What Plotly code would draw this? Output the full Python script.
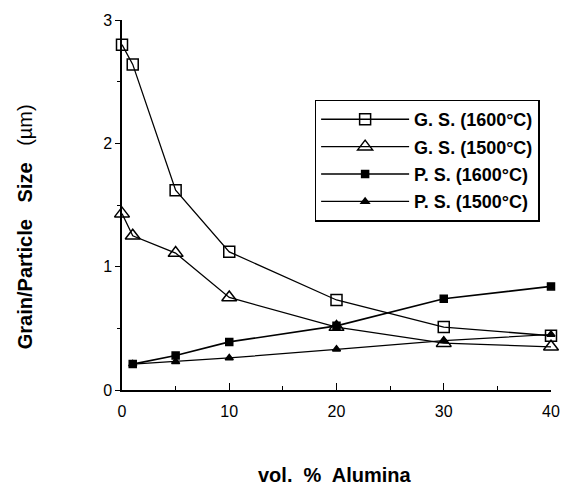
import plotly.graph_objects as go

x_gs = [0, 1, 5, 10, 20, 30, 40]
gs_1600 = [2.80, 2.64, 1.62, 1.12, 0.73, 0.51, 0.44]
gs_1500 = [1.43, 1.25, 1.11, 0.75, 0.51, 0.38, 0.35]
x_ps = [1, 5, 10, 20, 30, 40]
ps_1600 = [0.21, 0.28, 0.39, 0.52, 0.74, 0.84]
ps_1500 = [0.21, 0.23, 0.26, 0.33, 0.40, 0.45]

names = ["G. S. (1600°C)", "G. S. (1500°C)", "P. S. (1600°C)", "P. S. (1500°C)"]
x_ticks = [0, 10, 20, 30, 40]
y_ticks = [0, 1, 2, 3]

FONT = "Liberation Sans, Arial, Helvetica, sans-serif"

fig = go.Figure()
series = [
    (x_gs, gs_1600, names[0], "square-open", 11, 1.3),
    (x_gs, gs_1500, names[1], "triangle-up-open", 13, 1.3),
    (x_ps, ps_1600, names[2], "square", 7, 1.6),
    (x_ps, ps_1500, names[3], "triangle-up", 7, 1.2),
]
for i, (xx, yy, nm, sym, sz, lw) in enumerate(series):
    fig.add_trace(go.Scatter(
        x=xx, y=yy, name=nm, mode="lines+markers",
        line=dict(color="black", width=lw),
        marker=dict(symbol=sym, size=sz, color="black",
                    line=dict(color="black", width=1.5)),
        legendgroup=f"g{i}", cliponaxis=False,
    ))

fig.update_layout(
    width=572, height=493,
    margin=dict(l=122, r=20, t=15, b=103),
    paper_bgcolor="white", plot_bgcolor="white",
    font=dict(family=FONT, color="black", size=16),
    showlegend=True,
    legend=dict(
        x=0.449, y=0.785, xanchor="left", yanchor="top",
        bordercolor="black", borderwidth=1.5, bgcolor="white",
        font=dict(family=FONT, size=18, color="black", weight="bold"),
        traceorder="grouped", tracegroupgap=1,
        itemwidth=88,
    ),
    xaxis=dict(
        range=[0, 40], tickvals=x_ticks, ticktext=[str(v) for v in x_ticks],
        showgrid=False, zeroline=False, showline=True, linecolor="black", linewidth=1.5,
        ticks="inside", ticklen=7, tickcolor="black", tickwidth=1.2,
        tickfont=dict(size=16, family=FONT), ticklabelstandoff=6,
        minor=dict(tickvals=[5, 15, 25, 35], ticks="inside", ticklen=4, tickcolor="black"),
    ),
    yaxis=dict(
        range=[0, 3], tickvals=y_ticks, ticktext=[str(v) for v in y_ticks],
        showgrid=False, zeroline=False, showline=True, linecolor="black", linewidth=1.5,
        ticks="outside", ticklen=5, tickcolor="black", tickwidth=1.2,
        tickfont=dict(size=16, family=FONT),
        minor=dict(tickvals=[0.5, 1.5, 2.5], ticks="outside", ticklen=3, tickcolor="black"),
    ),
    annotations=[
        dict(text="<b>vol.  %  Alumina</b>", xref="paper", yref="paper",
             x=0.495, y=-0.229, xanchor="center", yanchor="middle", showarrow=False,
             font=dict(size=20, family=FONT)),
        dict(text="<b>Grain/Particle   Size   </b>(µm)", xref="paper", yref="paper",
             x=-0.226, y=0.44, xanchor="center", yanchor="middle", showarrow=False,
             textangle=-90, font=dict(size=20, family=FONT)),
    ],
)

fig.write_html("out.html")
